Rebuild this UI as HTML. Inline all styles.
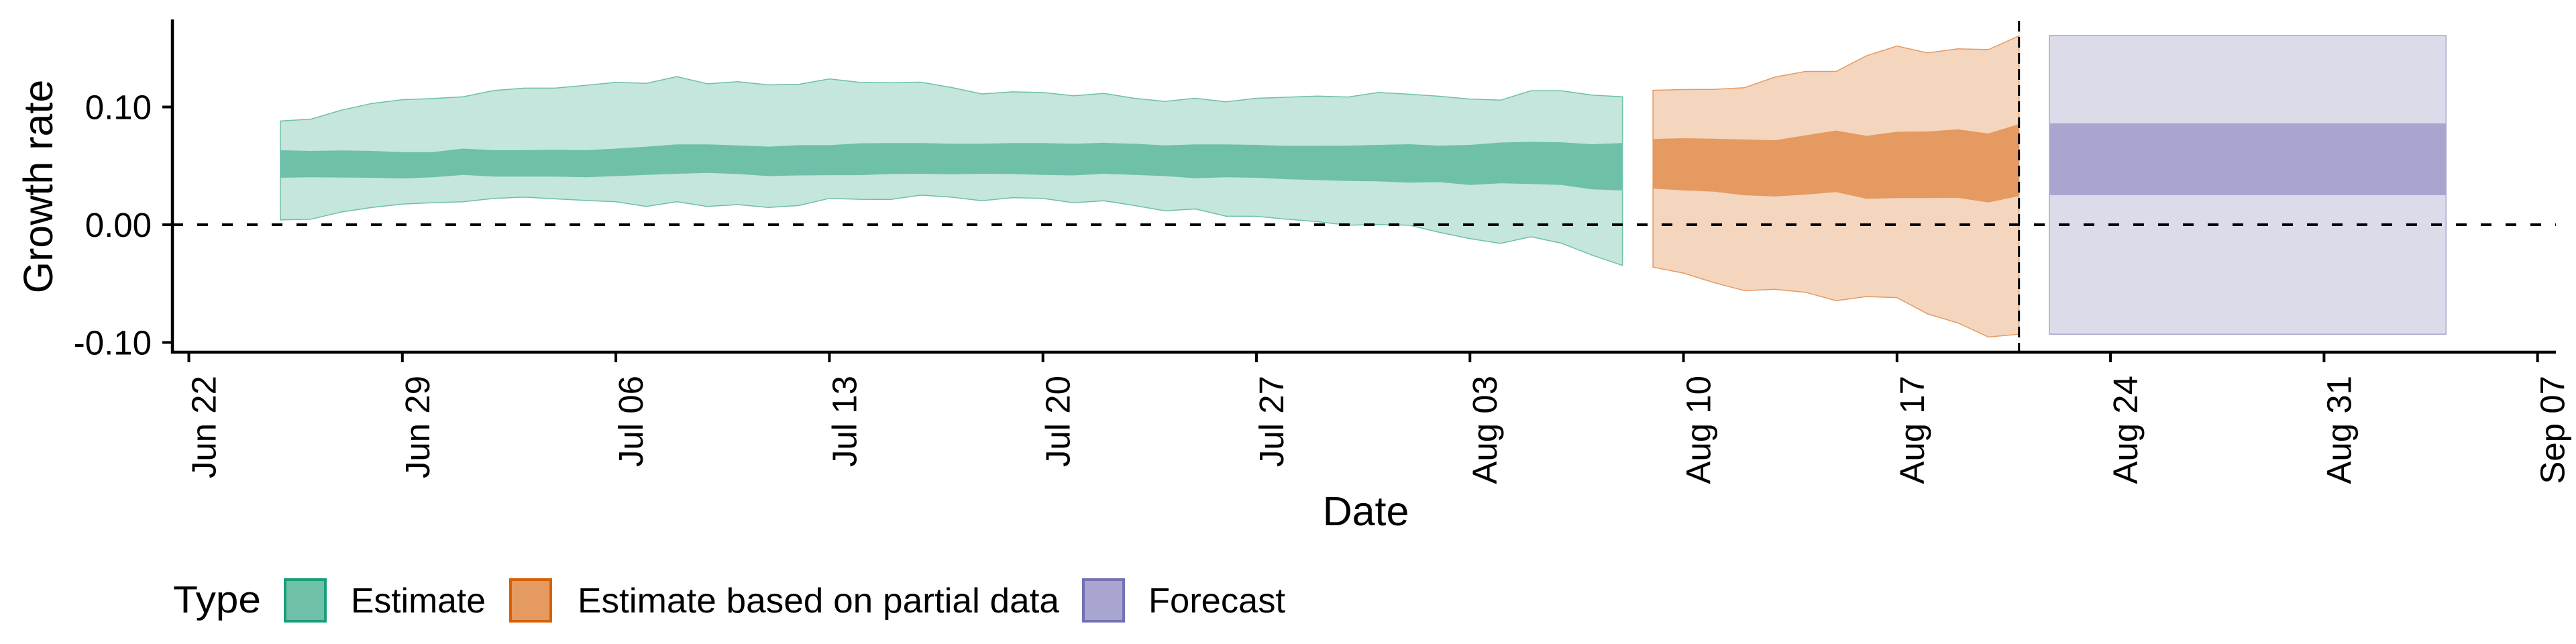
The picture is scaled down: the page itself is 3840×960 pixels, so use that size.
<!DOCTYPE html>
<html><head><meta charset="utf-8">
<style>
html,body{margin:0;padding:0;background:#fff;}
svg{display:block;font-family:"Liberation Sans",Arial,sans-serif;}
</style></head>
<body>
<svg id="chart" width="3840" height="960" viewBox="0 0 3840 960" xmlns="http://www.w3.org/2000/svg">
  <g id="marks"></g>
  <g id="axes"></g>
  <text x="0" y="0" transform="translate(78,278) rotate(-90)" text-anchor="middle" font-size="61">Growth rate</text>
  <text x="2036" y="783" text-anchor="middle" font-size="61">Date</text>
  <g>
    <text x="258" y="913" font-size="57" textLength="131" lengthAdjust="spacingAndGlyphs">Type</text>
    <rect x="425" y="864" width="60" height="62" fill="#6fc0a9" stroke="#1b9e77" stroke-width="4"/>
    <text x="523" y="913" font-size="52" textLength="201" lengthAdjust="spacingAndGlyphs">Estimate</text>
    <rect x="761" y="864" width="60" height="62" fill="#e59a61" stroke="#d95f02" stroke-width="4"/>
    <text x="861" y="913" font-size="52" textLength="718" lengthAdjust="spacingAndGlyphs">Estimate based on partial data</text>
    <rect x="1615" y="864" width="60" height="62" fill="#a8a5cf" stroke="#7570b3" stroke-width="4"/>
    <text x="1712" y="913" font-size="52" textLength="204" lengthAdjust="spacingAndGlyphs">Forecast</text>
  </g>
</svg>
<script>
// ---- data ----
const estStartDay = 3;   // days after Jun 22 (Jun 25)
const estUpper90 = [0.0881,0.0897,0.0973,0.1030,0.1062,0.1072,0.1087,0.1140,0.1160,0.1160,0.1184,0.1209,0.1201,0.1258,0.1197,0.1215,0.1188,0.1193,0.1239,0.1209,0.1207,0.1211,0.1166,0.1111,0.1129,0.1123,0.1095,0.1115,0.1074,0.1048,0.1074,0.1044,0.1074,0.1083,0.1093,0.1085,0.1123,0.1109,0.1091,0.1068,0.1058,0.1138,0.1138,0.1101,0.1087];
const estLower90 = [0.0041,0.0047,0.0108,0.0147,0.0175,0.0187,0.0195,0.0224,0.0234,0.0220,0.0206,0.0195,0.0155,0.0195,0.0155,0.0171,0.0147,0.0163,0.0224,0.0216,0.0214,0.0251,0.0234,0.0204,0.0230,0.0224,0.0187,0.0204,0.0163,0.0118,0.0134,0.0073,0.0071,0.0047,0.0026,-0.0004,0.0002,-0.0004,-0.0065,-0.0118,-0.0159,-0.0102,-0.0157,-0.0258,-0.0346];
const estUpper50 = [0.0633,0.0627,0.0631,0.0627,0.0617,0.0617,0.0647,0.0633,0.0633,0.0637,0.0633,0.0647,0.0663,0.0682,0.0682,0.0674,0.0663,0.0676,0.0676,0.0692,0.0694,0.0694,0.0688,0.0688,0.0694,0.0694,0.0688,0.0696,0.0688,0.0674,0.0682,0.0682,0.0678,0.0670,0.0670,0.0672,0.0678,0.0684,0.0672,0.0678,0.0698,0.0704,0.0700,0.0684,0.0694];
const estLower50 = [0.0399,0.0403,0.0401,0.0399,0.0393,0.0403,0.0423,0.0409,0.0409,0.0409,0.0403,0.0413,0.0423,0.0433,0.0440,0.0431,0.0413,0.0419,0.0421,0.0421,0.0431,0.0433,0.0429,0.0433,0.0431,0.0423,0.0419,0.0433,0.0423,0.0413,0.0395,0.0403,0.0399,0.0387,0.0379,0.0372,0.0368,0.0358,0.0362,0.0338,0.0352,0.0346,0.0338,0.0301,0.0291];
const partStartDay = 48; // Aug 9
const partUpper90 = [0.1142,0.1148,0.1150,0.1164,0.1254,0.1302,0.1302,0.1435,0.1518,0.1459,0.1494,0.1488,0.1604];
const partLower90 = [-0.0360,-0.0411,-0.0492,-0.0560,-0.0549,-0.0574,-0.0645,-0.0610,-0.0619,-0.0757,-0.0834,-0.0954,-0.0930];
const partUpper50 = [0.0729,0.0735,0.0731,0.0724,0.0718,0.0759,0.0800,0.0755,0.0790,0.0792,0.0810,0.0775,0.0855];
const partLower50 = [0.0307,0.0291,0.0281,0.0250,0.0240,0.0256,0.0277,0.0220,0.0226,0.0226,0.0228,0.0189,0.0244];
const fcStartDay = 61, fcEndDay = 74;
const fcBand90 = [-0.093, 0.1607];
const fcBand50 = [0.0251, 0.0861];
const nowcastDay = 60;
const yTicks = [-0.10, 0.00, 0.10];
const yTickLabels = ["-0.10","0.00","0.10"];
const xTickDays = [0,7,14,21,28,35,42,49,56,63,70,77];
const xTickLabels = ["Jun 22","Jun 29","Jul 06","Jul 13","Jul 20","Jul 27","Aug 03","Aug 10","Aug 17","Aug 24","Aug 31","Sep 07"];

// ---- scales ----
const X0 = 281.5, PXD = 45.47;
const x = d => X0 + d * PXD;
const Y0 = 335, PXU = 1755;
const y = v => Y0 - v * PXU;
const NS = "http://www.w3.org/2000/svg";
const marks = document.getElementById('marks');
const axes = document.getElementById('axes');
function mk(tag, attrs, parent){ const e=document.createElementNS(NS,tag); for(const k in attrs) e.setAttribute(k,attrs[k]); parent.appendChild(e); return e; }

function band(start, up, lo, fill, stroke, name){
  let pts = up.map((v,i)=>x(start+i).toFixed(1)+','+y(v).toFixed(1));
  for(let i=lo.length-1;i>=0;i--) pts.push(x(start+i).toFixed(1)+','+y(lo[i]).toFixed(1));
  const p = mk('polygon',{points:pts.join(' '),fill:fill,stroke:stroke,'stroke-width':stroke==='none'?0:1.5},marks);
  
  
}
band(estStartDay, estUpper90, estLower90, '#c4e6dc', '#6fc0a9', 'estimate-90-band');
band(estStartDay, estUpper50, estLower50, '#6fc0a9', 'none', 'estimate-50-band');
band(partStartDay, partUpper90, partLower90, '#f4d6bf', '#e59a61', 'partial-90-band');
band(partStartDay, partUpper50, partLower50, '#e59a61', 'none', 'partial-50-band');

const f90 = mk('rect',{x:x(fcStartDay),y:y(fcBand90[1]),width:x(fcEndDay)-x(fcStartDay),height:y(fcBand90[0])-y(fcBand90[1]),fill:'#dcdbea',stroke:'#a8a5cf','stroke-width':1.5},marks);


const f50 = mk('rect',{x:x(fcStartDay),y:y(fcBand50[1]),width:x(fcEndDay)-x(fcStartDay),height:y(fcBand50[0])-y(fcBand50[1]),fill:'#a8a5cf'},marks);



const zl = mk('line',{x1:257,x2:3810,y1:y(0),y2:y(0),stroke:'#000','stroke-width':4,'stroke-dasharray':'16,21'},marks);


const vl = mk('line',{x1:x(nowcastDay),x2:x(nowcastDay),y1:31,y2:525,stroke:'#000','stroke-width':3,'stroke-dasharray':'16,8'},marks);



// axes
const ya = mk('line',{x1:257,x2:257,y1:29,y2:527,stroke:'#000','stroke-width':4.5},axes);


const xa = mk('line',{x1:255,x2:3810,y1:525,y2:525,stroke:'#000','stroke-width':4.5},axes);


yTicks.forEach((v,i)=>{
  const t = mk('line',{x1:242,x2:257,y1:y(v),y2:y(v),stroke:'#000','stroke-width':4},axes);
  
  
  const l = mk('text',{x:226,y:y(v)+18,'text-anchor':'end','font-size':51},axes);
  l.textContent = yTickLabels[i];
  
  
});
xTickDays.forEach((d,i)=>{
  const t = mk('line',{x1:x(d),x2:x(d),y1:525,y2:540,stroke:'#000','stroke-width':4},axes);
  
  
  const l = mk('text',{x:0,y:0,transform:'translate('+(x(d)+40)+',560) rotate(-90)','text-anchor':'end','font-size':51},axes);
  l.textContent = xTickLabels[i];
  
  
});
</script>
</body></html>
